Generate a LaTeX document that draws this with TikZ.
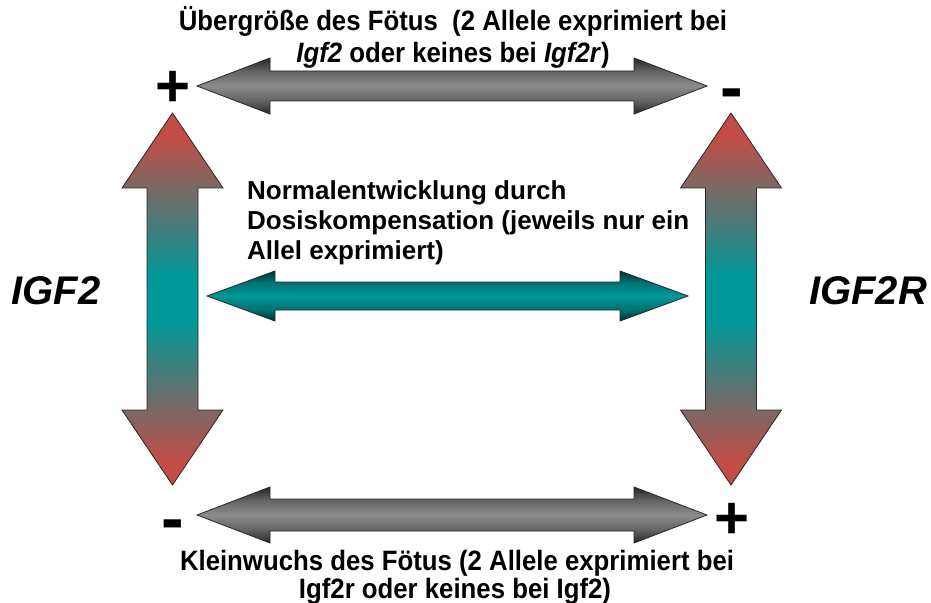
\documentclass[tikz,border=0pt]{standalone}
\usepackage{fontspec}
\setmainfont{Liberation Sans}
\newfontfamily\narrowfont[FakeStretch=0.92]{Liberation Sans}
\definecolor{gdark}{RGB}{38,38,38}
\definecolor{gmid}{RGB}{100,100,100}
\definecolor{glight}{RGB}{140,140,140}
\definecolor{tdark}{RGB}{0,50,50}
\definecolor{tmid}{RGB}{0,112,112}
\definecolor{tlight}{RGB}{0,152,152}
\definecolor{rarrow}{RGB}{196,76,70}
\definecolor{tarrow}{RGB}{0,152,152}
\definecolor{outl}{RGB}{40,40,40}
\pgfdeclareverticalshading{grayarr}{100bp}{color(0bp)=(gdark); color(25bp)=(gdark); color(37bp)=(gmid); color(50bp)=(glight); color(63bp)=(gmid); color(75bp)=(gdark); color(100bp)=(gdark)}
\pgfdeclareverticalshading{tealarr}{100bp}{color(0bp)=(tdark); color(25bp)=(tdark); color(36bp)=(tmid); color(50bp)=(tlight); color(64bp)=(tmid); color(75bp)=(tdark); color(100bp)=(tdark)}
\pgfdeclareverticalshading{redteal}{100bp}{color(0bp)=(rarrow); color(28bp)=(rarrow); color(47bp)=(tarrow); color(53bp)=(tarrow); color(72bp)=(rarrow); color(100bp)=(rarrow)}
% horizontal double arrow: left tip x, right tip x, centre y, head length, head half height, shaft half height, style
\newcommand\harrowshape[7]{\path[#7] (#1,#3) -- (#1+#4,#3-#5) -- (#1+#4,#3-#6) -- (#2-#4,#3-#6) -- (#2-#4,#3-#5) -- (#2,#3) -- (#2-#4,#3+#5) -- (#2-#4,#3+#6) -- (#1+#4,#3+#6) -- (#1+#4,#3+#5) -- cycle;}
% vertical double arrow: top tip y, bottom tip y, centre x, head length, head half width, shaft half width, style
\newcommand\varrowshape[7]{\path[#7] (#3,#1) -- (#3+#5,#1+#4) -- (#3+#6,#1+#4) -- (#3+#6,#2-#4) -- (#3+#5,#2-#4) -- (#3,#2) -- (#3-#5,#2-#4) -- (#3-#6,#2-#4) -- (#3-#6,#1+#4) -- (#3-#5,#1+#4) -- cycle;}
\tikzset{
  arrowline/.style={draw=outl, line width=0.8bp, line join=miter},
  grayarrow/.style={arrowline, shading=grayarr},
  tealarrow/.style={arrowline, shading=tealarr},
  redarrow/.style={arrowline, shading=redteal},
  capline/.style={inner sep=0pt, anchor=base, font=\narrowfont\bfseries\fontsize{28bp}{30bp}\selectfont},
  midline/.style={inner sep=0pt, anchor=base west, font=\bfseries\fontsize{26bp}{30bp}\selectfont},
  plussign/.style={inner sep=0pt, anchor=base, font=\bfseries\fontsize{60bp}{60bp}\selectfont},
  minussign/.style={inner sep=0pt, anchor=base, font=\bfseries\fontsize{68bp}{68bp}\selectfont},
  genelabel/.style={inner sep=0pt, anchor=center, font=\bfseries\itshape\fontsize{40bp}{40bp}\selectfont}
}
\begin{document}
\begin{tikzpicture}[x=1bp, y=-1bp]
\fill[white] (0,0) rectangle (931,603);
\useasboundingbox (0,0) rectangle (931,603);
% arrows
\harrowshape{197}{707}{86}{73}{28}{15}{grayarrow}
\harrowshape{197}{707}{515}{73}{28}{16}{grayarrow}
\harrowshape{207}{688}{296}{68}{25}{14}{tealarrow}
\varrowshape{113}{485}{172.5}{75}{50.5}{25.5}{redarrow}
\varrowshape{113}{485}{731}{75}{50.5}{25.5}{redarrow}
% texts
\node[capline] (top1) at (453,31) {Übergröße des Fötus\ \ (2 Allele exprimiert bei};
\node[capline] (top2) at (453,63) {\textit{Igf2} oder keines bei \textit{Igf2r})};
\node[capline] (bot1) at (457,570) {Kleinwuchs des Fötus (2 Allele exprimiert bei};
\node[capline] (bot2) at (455,598) {Igf2r oder keines bei Igf2)};
\node[midline] (mid1) at (247,200) {Normalentwicklung durch};
\node[midline] (mid2) at (247,230) {Dosiskompensation (jeweils nur ein};
\node[midline] (mid3) at (247,260) {Allel exprimiert)};
\node[genelabel] (igf2) at (56,291) {IGF2};
\node[genelabel] (igf2r) at (868,291) {IGF2R};
% signs
\node[plussign] (plusTL) at (173,107) {+};
\node[minussign] (minusTR) at (732,111) {-};
\node[minussign] (minusBL) at (173,541) {-};
\node[plussign] (plusBR) at (732,538) {+};
\end{tikzpicture}
\end{document}
